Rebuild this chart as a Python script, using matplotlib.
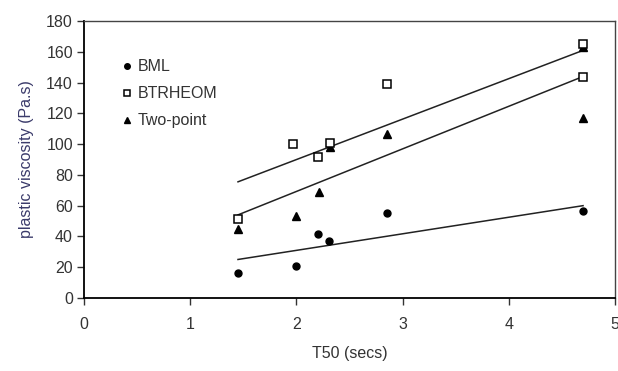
import numpy as np
import matplotlib

matplotlib.use("Agg")
import matplotlib.pyplot as plt

plt.rcParams["font.family"] = ["Liberation Sans", "DejaVu Sans"]

# T50 (secs) vs plastic viscosity (Pa.s)
bml_x = [1.45, 2.0, 2.2, 2.31, 2.85, 4.7]
bml_y = [16, 21, 41.5, 37, 55, 56.5]

btr_x = [1.45, 1.97, 2.2, 2.32, 2.85, 4.7, 4.7]
btr_y = [51, 100, 91.5, 101, 139, 165, 143.5]

two_x = [1.45, 2.0, 2.21, 2.32, 2.85, 4.7, 4.7]
two_y = [45, 53, 69, 98, 106.5, 163, 117]

# trend line end points
trend_x = [1.45, 4.7]
trend_bml = [25, 60]
trend_btr = [75.5, 161]
trend_two = [54, 144]

x_ticks = [0, 1, 2, 3, 4, 5]
y_ticks = list(range(0, 181, 20))

fig = plt.figure(figsize=(6.18, 3.71), dpi=100)
ax = fig.add_axes([0.136, 0.197, 0.859, 0.746])

for ty in (trend_bml, trend_btr, trend_two):
    ax.plot(trend_x, ty, color="#222222", lw=1.1, zorder=1)

ax.plot(bml_x, bml_y, "o", ms=5, color="black", ls="none", label="BML", zorder=3)
ax.plot(two_x, two_y, "^", ms=5.5, color="black", ls="none", label="Two-point", zorder=3)
ax.plot(btr_x, btr_y, "s", ms=6, mfc="white", mec="black", mew=1.1, ls="none",
        label="BTRHEOM", zorder=4)

ax.set_xlim(0, 5)
ax.set_ylim(0, 180)
ax.set_xticks(x_ticks)
ax.set_yticks(y_ticks)
ax.tick_params(labelsize=11.5, direction="out", length=5, width=1, color="#333333",
               labelcolor="#333333")
ax.tick_params(axis="x", pad=9)
ax.tick_params(axis="y", pad=3)
for side in ("left", "bottom"):
    ax.spines[side].set_linewidth(1.3)
for side in ("top", "right"):
    ax.spines[side].set_linewidth(1.0)
    ax.spines[side].set_color("#444444")

ax.set_xlabel("T50 (secs)", fontsize=11.5, color="#333333", labelpad=10)
ax.set_ylabel("plastic viscosity (Pa.s)", fontsize=11.5, color="#3a3a6a", labelpad=9)

handles, labels = ax.get_legend_handles_labels()
order = [labels.index(n) for n in ("BML", "BTRHEOM", "Two-point")]
leg = ax.legend([handles[i] for i in order], [labels[i] for i in order],
                loc="upper left", bbox_to_anchor=(0.053, 0.891), frameon=False,
                fontsize=11.5, borderpad=0, handlelength=0.8, handletextpad=0.3,
                labelspacing=0.75, markerscale=0.8)
for t in leg.get_texts():
    t.set_color("#333333")

fig.savefig("out.png", dpi=100)
